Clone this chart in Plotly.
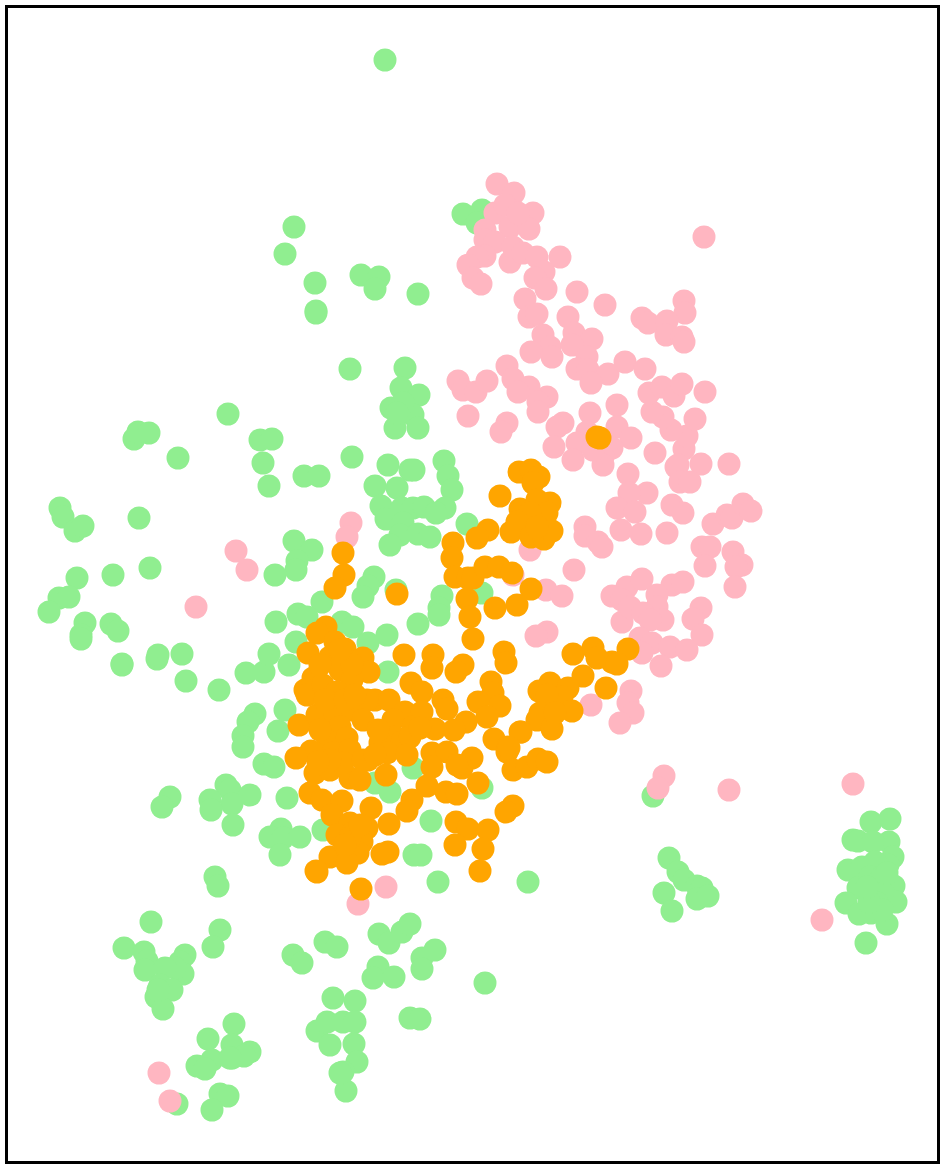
import plotly.graph_objects as go

# values, draw order green, pink, orange
green = [
    (385,60),(294,227),(285,254),(315,283),(316,311),(316,313),(361,275),(379,277),(375,289),(418,294),
    (463,214),(482,210),(477,223),(350,369),(405,368),(401,388),(419,395),(391,408),(413,415),(395,428),
    (418,428),(403,403),(397,413),(228,414),(260,440),(272,439),(263,463),(269,486),(304,476),(319,476),
    (352,457),(388,465),(410,470),(414,470),(444,461),(448,476),(452,490),(375,486),(397,488),(381,506),
    (386,519),(402,508),(413,508),(424,507),(445,508),(436,513),(403,523),(400,535),(418,534),(430,537),
    (390,545),(467,524),(294,541),(312,550),(297,561),(296,570),(275,575),(374,577),(368,586),(363,597),
    (396,590),(442,596),(439,608),(439,615),(418,624),(322,602),(276,622),(298,614),(307,617),(342,622),
    (353,627),(368,643),(387,635),(296,642),(482,593),(134,439),(138,432),(149,433),(178,458),(60,508),
    (63,517),(75,531),(83,526),(139,518),(113,575),(150,568),(77,578),(59,598),(69,597),(49,612),
    (85,623),(81,635),(81,639),(111,624),(118,631),(122,664),(122,665),(157,659),(158,655),(182,654),
    (186,681),(219,690),(246,673),(264,672),(269,654),(289,665),(255,714),(248,722),(243,736),(243,747),
    (278,731),(285,710),(264,764),(274,767),(226,785),(230,790),(232,804),(250,795),(210,800),(211,810),
    (170,797),(162,807),(233,825),(287,798),(281,829),(270,837),(283,838),(280,855),(300,837),(323,830),
    (388,672),(413,768),(375,783),(390,792),(482,788),(431,821),(414,855),(421,855),(438,882),(528,882),
    (653,796),(669,858),(678,872),(684,880),(664,893),(672,911),(697,886),(702,888),(697,899),(708,896),
    (871,822),(890,819),(853,840),(858,841),(889,842),(873,842),(893,857),(888,865),(848,870),(862,867),
    (875,862),(858,888),(894,886),(846,903),(896,902),(859,914),(871,913),(887,924),(866,943),(870,877),
    (882,877),(870,893),(883,893),(877,903),(882,910),(869,902),(887,873),(867,887),
    (215,877),(218,886),(151,922),(220,930),(213,947),(124,948),(144,952),(147,961),(145,970),(185,955),
    (180,962),(183,974),(175,968),(165,968),(160,985),(172,990),(156,997),(163,1009),(158,990),
    (293,955),(302,963),(325,942),(337,947),(379,934),(389,943),(402,932),(410,924),(422,958),(435,950),
    (422,969),(378,967),(373,978),(394,977),(485,983),(333,998),(355,1001),(410,1018),(420,1019),(234,1024),
    (208,1039),(232,1045),(232,1058),(250,1052),(244,1056),(212,1060),(197,1066),(205,1069),(230,1058),
    (317,1031),(327,1022),(343,1022),(355,1022),(330,1045),(354,1044),(357,1062),(343,1072),(346,1091),(340,1073),
    (220,1094),(228,1096),(212,1110),(177,1104),
]
pink = [
    (497,184),(514,193),(495,213),(505,205),(533,213),(510,227),(529,229),(518,213),(485,230),(485,240),
    (495,242),(485,256),(477,257),(468,265),(473,278),(481,284),(510,262),(513,247),(523,253),(537,257),
    (560,257),(544,272),(535,278),(546,289),(577,292),(605,305),(525,299),(529,317),(537,314),(568,317),
    (684,301),(685,313),(642,318),(648,323),(667,321),(666,335),(682,337),(684,342),(543,335),(550,347),
    (531,352),(552,357),(574,333),(592,339),(572,345),(587,357),(577,369),(588,370),(608,374),(591,383),
    (625,362),(645,369),(507,366),(513,379),(529,387),(518,392),(547,397),(538,402),(538,412),(458,381),
    (463,390),(476,392),(487,381),(468,416),(507,423),(501,432),(563,423),(557,427),(554,447),(590,413),
    (617,405),(617,427),(587,432),(631,438),(577,443),(612,448),(573,460),(603,457),(603,465),(593,450),
    (655,453),(684,449),(687,436),(695,419),(671,430),(663,417),(652,412),(649,393),(662,387),(674,396),
    (682,384),(705,392),(676,467),(701,464),(729,464),(678,465),(680,482),(690,482),(628,474),(647,493),
    (629,493),(617,508),(635,512),(672,505),(683,513),(621,530),(641,534),(667,533),(713,524),(727,515),
    (732,518),(743,504),(751,511),(585,527),(585,536),(598,542),(602,547),(702,547),(710,547),(705,566),
    (733,552),(742,565),(736,567),(735,587),(574,570),(530,550),(546,590),(562,596),(513,575),(547,632),
    (536,636),(627,587),(642,579),(612,596),(672,585),(683,582),(622,600),(622,622),(630,607),(657,595),
    (657,607),(643,613),(663,620),(650,620),(701,608),(693,619),(702,635),(640,638),(652,643),(670,647),
    (687,650),(642,653),(661,666),(631,691),(628,703),(633,713),(620,723),(591,705),(664,776),(658,788),
    (729,790),(853,784),(822,920),(386,887),(358,904),(159,1073),(170,1101),(704,237),(351,523),(347,537),
    (236,551),(247,570),(196,607),
]
orange = [
    (597,437),(600,438),(519,472),(531,470),(539,477),(533,483),(500,496),(550,503),(520,509),(537,500),
    (547,513),(530,513),(511,532),(517,522),(531,537),(544,539),(552,531),(537,527),(488,530),(477,538),
    (453,543),(452,558),(455,577),(468,578),(473,578),(485,567),(499,567),(512,573),(531,589),(467,599),
    (517,605),(495,608),(470,617),(473,639),(504,652),(506,663),(463,665),(456,672),(433,655),(432,668),
    (573,654),(593,648),(628,649),(612,662),(597,658),(617,664),(583,676),(606,688),(550,683),(539,691),
    (568,688),(562,697),(547,695),(572,711),(540,713),(537,720),(552,729),(555,713),(521,732),(491,682),
    (493,693),(500,706),(478,702),(487,717),(466,722),(454,730),(443,700),(447,709),(435,729),(494,739),
    (508,747),(343,553),(344,575),(335,588),(397,594),(404,655),(326,627),(317,633),(308,653),(335,642),
    (345,649),(330,657),(363,658),(369,672),(313,678),(305,690),(307,695),(323,685),(340,670),(352,680),
    (337,692),(411,683),(422,692),(375,700),(389,700),(367,700),(405,712),(422,712),(393,720),(299,725),
    (317,715),(335,715),(352,710),(363,720),(340,727),(413,727),(395,737),(380,743),(328,742),(347,738),
    (402,742),(410,737),(311,751),(296,758),(333,753),(350,750),(368,760),(387,753),(407,755),(432,753),
    (447,752),(432,767),(507,752),(520,732),(509,748),(513,770),(527,767),(538,759),(547,762),(472,758),
    (462,768),(457,765),(315,773),(330,770),(350,778),(360,780),(343,763),(363,760),(386,775),(478,783),
    (427,786),(446,792),(457,794),(310,793),(322,800),(342,801),(371,808),(412,800),(407,811),(513,806),
    (506,812),(332,815),(350,823),(367,828),(389,824),(456,822),(468,829),(488,830),(337,835),(353,833),
    (362,842),(358,853),(330,857),(347,863),(388,852),(382,854),(455,845),(483,849),(480,871),(317,872),
    (316,871),(361,889),
    (325,700),(345,700),(320,730),(330,760),(378,730),(375,755),(420,728),(318,762),(355,695),(320,665),
    (352,665),(340,650),(350,838),(345,845),(360,825),
]

series = [(green, "lightgreen"), (pink, "lightpink"), (orange, "orange")]

fig = go.Figure()
for pts, color in series:
    fig.add_trace(go.Scatter(
        x=[p[0] for p in pts],
        y=[p[1] for p in pts],
        mode="markers",
        marker=dict(color=color, size=23, line=dict(width=0)),
        showlegend=False,
        hoverinfo="skip",
    ))

axis = dict(showgrid=False, zeroline=False, showticklabels=False, ticks="",
            showline=True, linecolor="black", linewidth=3, mirror=True)
fig.update_layout(
    width=945, height=1166,
    margin=dict(l=0, r=0, t=0, b=0),
    plot_bgcolor="white", paper_bgcolor="white",
    xaxis=dict(axis, range=[8, 937], domain=[8/945, 937/945]),
    yaxis=dict(axis, range=[1161, 8], domain=[5/1166, 1158/1166]),
)
fig.write_html("out.html", config={"displayModeBar": False},
               post_script="document.body.style.margin='0';")
